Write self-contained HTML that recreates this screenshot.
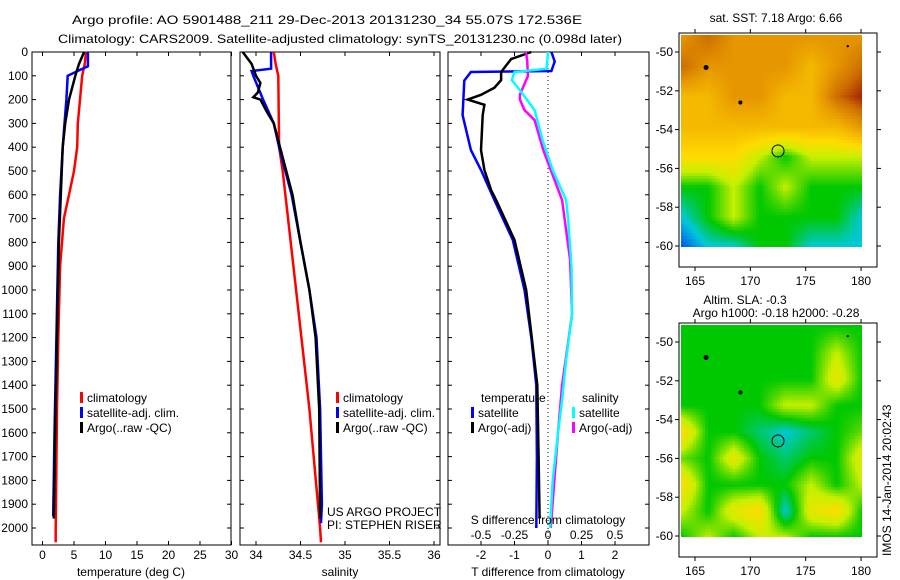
<!DOCTYPE html>
<html><head><meta charset="utf-8"><style>
html,body{margin:0;padding:0;background:#fff;width:900px;height:580px;overflow:hidden}
svg{position:absolute;left:0;top:0}
text{font-family:"Liberation Sans",sans-serif;font-size:12px;fill:#000}
canvas{position:absolute}
</style></head><body>
<canvas id="m1" width="181" height="212" style="left:681px;top:35px"></canvas>
<canvas id="m2" width="181" height="212" style="left:681px;top:325px"></canvas>
<svg id="s" width="900" height="580"></svg>
<script>
// ---- data ----
const tickDepths=[0,100,200,300,400,500,600,700,800,900,1000,1100,1200,1300,1400,1500,1600,1700,1800,1900,2000];
const tempTicks=[0,5,10,15,20,25,30];
const salTicks=[34,34.5,35,35.5,36];
const tdTicks=[-2,-1,0,1,2];
const sdTicks=[-0.5,-0.25,0,0.25,0.5];
const tempClimD=[0,50,100,300,400,500,600,700,900,1200,1500,2000,2060];
const tempClimV=[6.9,6.7,6.3,5.6,5.5,5.0,4.2,3.4,2.8,2.5,2.3,2.1,2.1];
const tempSatD=[0,60,75,100,200,300,400,600,800,1200,1600,1950];
const tempSatV=[7.2,7.2,6.0,4.0,3.8,3.5,3.2,2.8,2.5,2.2,1.9,1.7];
const tempArgoD=[0,50,100,200,300,400,600,800,1200,1600,1960];
const tempArgoV=[6.6,5.8,5.2,4.2,3.6,3.2,2.9,2.6,2.3,2.0,1.8];
const salClimD=[0,50,100,400,500,1000,1500,2000,2060];
const salClimV=[34.2,34.22,34.25,34.26,34.3,34.45,34.6,34.72,34.73];
const salSatD=[0,70,80,100,200,300,400,600,800,1000,1200,1500,1900,1980];
const salSatV=[34.17,34.17,33.95,33.97,34.08,34.2,34.26,34.4,34.5,34.6,34.68,34.72,34.74,34.73];
const salArgoD=[0,50,100,130,170,190,200,250,300,400,600,800,1000,1200,1500,1960];
const salArgoV=[33.85,33.95,34.0,34.05,34.02,33.97,34.05,34.12,34.2,34.27,34.41,34.5,34.6,34.67,34.71,34.72];
const tdSatD=[0,40,80,84,120,265,412,496,622,790,1000,1200,1400,1700,2000];
const tdSatV=[0.1,0.2,0.1,-2.3,-2.5,-2.55,-2.3,-2.0,-1.6,-1.05,-0.7,-0.5,-0.35,-0.33,-0.35];
const tdArgoD=[0,30,84,118,150,180,200,222,265,412,496,580,622,790,1000,1400,1700,1960];
const tdArgoV=[-0.5,-1.1,-1.4,-1.4,-1.6,-2.0,-2.4,-1.9,-1.95,-2.0,-1.9,-1.7,-1.55,-1.0,-0.65,-0.32,-0.28,-0.25];
const sdSatD=[0,70,84,118,160,244,370,496,622,700,900,1100,1294,1462,1600,1800,2000];
const sdSatV=[0,-0.01,-0.25,-0.27,-0.21,-0.1,-0.04,0.035,0.135,0.15,0.175,0.18,0.135,0.105,0.075,0.035,0.015];
const sdArgoD=[0,34,101,180,200,244,286,412,622,874,1100,1400,1600,2000];
const sdArgoV=[-0.165,-0.155,-0.15,-0.21,-0.21,-0.175,-0.1,-0.035,0.105,0.165,0.18,0.105,0.075,0.02];
const sstGrid=[[6,7,6,6,6,6,6,6],[7,6,6,6,6,5,6,7],[5,5,6,6,5,5,7,8],[5,5,5,5,5,5,5,6],[4,4,4,3,2,3,3,3],[2,2,3,2,3,2,2,2],[1,2,3,2,2,2,2,1],[0,1,1,2,2,1,1,1]];
const slaGrid=[[2,2,2,2,2,2,2,2],[2,2,2,2,2,2,3,2],[2,2,2,2,2,2,3.5,2],[2,2,2,2,3,3,2,2],[4,2,2,1.5,1,1.5,2,2.5],[2.5,2,3.5,2,1.5,2,2,3.5],[4,2,2,2,2,3,2,3],[3,2,3.5,4,1,3.5,4,2],[2,3,2,3,3,2,2,2]];
// ---- helpers ----
const S=document.getElementById('s');const NS='http://www.w3.org/2000/svg';
function el(t,a,p){const e=document.createElementNS(NS,t);for(const k in a)e.setAttribute(k,a[k]);(p||S).appendChild(e);return e;}
function txt(x,y,s,anchor,extra){const e=el('text',Object.assign({x:x,y:y,'text-anchor':anchor||'start'},extra||{}));e.textContent=s;return e;}
const Y0=52,YB=545,dy=d=>Y0+d*0.238;
function axes(x0,x1){el('rect',{x:x0,y:Y0,width:x1-x0,height:YB-Y0,fill:'none',stroke:'#000','stroke-width':1});
 tickDepths.forEach(d=>{el('line',{x1:x0,x2:x0+4,y1:dy(d),y2:dy(d),stroke:'#000'});el('line',{x1:x1,x2:x1-4,y1:dy(d),y2:dy(d),stroke:'#000'});});}
function line(D,V,fx,col,name){const pts=D.map((d,i)=>fx(V[i]).toFixed(1)+','+dy(d).toFixed(1)).join(' ');
 const p=el('polyline',{points:pts,fill:'none',stroke:col,'stroke-width':2.5});
 
 }
function xticks(ticks,fx,y){ticks.forEach(t=>{el('line',{x1:fx(t),x2:fx(t),y1:YB,y2:YB-4,stroke:'#000'});el('line',{x1:fx(t),x2:fx(t),y1:Y0,y2:Y0+4,stroke:'#000'});txt(fx(t),y,String(t),'middle');});}
function legend(x,y,items){items.forEach((it,i)=>{el('rect',{x:x,y:y+i*15-10,width:3,height:11,fill:it[1]});txt(x+7,y+i*15,it[0],'start',{'font-size':'12.5'});});}
// titles
txt(72,24,'Argo profile: AO 5901488_211 29-Dec-2013 20131230_34 55.07S 172.536E','start',{'font-size':'15',textLength:'510',lengthAdjust:'spacingAndGlyphs'});
txt(58,43,'Climatology: CARS2009. Satellite-adjusted climatology: synTS_20131230.nc (0.098d later)','start',{'font-size':'15',textLength:'564',lengthAdjust:'spacingAndGlyphs'});
// panel 1
const fT=v=>42.5+6.3*v;
axes(32,231);
tickDepths.forEach(d=>txt(28,dy(d)+4,String(d),'end'));
xticks(tempTicks,fT,559);
line(tempClimD,tempClimV,fT,'#f00','temp-climatology-line');
line(tempSatD,tempSatV,fT,'#00f','temp-satellite-line');
line(tempArgoD,tempArgoV,fT,'#000','temp-argo-line');
legend(80,402,[['climatology','#f00'],['satellite-adj. clim.','#00f'],['Argo(..raw -QC)','#000']]);
txt(131,576,'temperature (deg C)','middle');
// panel 2
const fS=v=>256+89*(v-34);
axes(240,440);
xticks(salTicks,fS,559);
line(salClimD,salClimV,fS,'#f00','sal-climatology-line');
line(salSatD,salSatV,fS,'#00f','sal-satellite-line');
line(salArgoD,salArgoV,fS,'#000','sal-argo-line');
legend(336,402,[['climatology','#f00'],['satellite-adj. clim.','#00f'],['Argo(..raw -QC)','#000']]);
txt(327,516,'US ARGO PROJECT');txt(327,529,'PI: STEPHEN RISER');
txt(340,576,'salinity','middle');
// panel 3
const fD=v=>548+33.5*v, fSD=v=>548+134*v;
axes(448,649);
el('line',{x1:548,x2:548,y1:Y0,y2:YB,stroke:'#000','stroke-dasharray':'1,3'});
tdTicks.forEach(t=>{el('line',{x1:fD(t),x2:fD(t),y1:YB,y2:YB-4,stroke:'#000'});txt(fD(t),559,String(t),'middle');});
sdTicks.forEach(t=>{el('line',{x1:fSD(t),x2:fSD(t),y1:Y0,y2:Y0+4,stroke:'#000'});txt(fSD(t),539,String(t),'middle');});
line(tdSatD,tdSatV,fD,'#00f','tdiff-satellite-line');
line(tdArgoD,tdArgoV,fD,'#000','tdiff-argo-line');
line(sdArgoD,sdArgoV,fSD,'#f0f','sdiff-argo-line');
line(sdSatD,sdSatV,fSD,'#0ff','sdiff-satellite-line');
txt(481,402,'temperature','start',{'font-size':'12.5'});txt(582,402,'salinity','start',{'font-size':'12.5'});
legend(471,417,[['satellite','#00f'],['Argo(-adj)','#000']]);
legend(572,417,[['satellite','#0ff'],['Argo(-adj)','#f0f']]);
txt(548,524,'S difference from climatology','middle',{'font-size':'12.5'});
txt(548,576,'T difference from climatology','middle');
// maps
const lonX=l=>695+11.07*(l-165);
function mapAxes(top,bot,lat50){
 el('rect',{x:679,y:top,width:198,height:bot-top,fill:'none',stroke:'#000'});
 const latY=l=>lat50+19.4*(-50-l);
 [-50,-52,-54,-56,-58,-60].forEach(l=>{el('line',{x1:679,x2:675,y1:latY(l),y2:latY(l),stroke:'#000'});el('line',{x1:877,x2:881,y1:latY(l),y2:latY(l),stroke:'#000'});txt(673,latY(l)+4,String(l),'end');});
 [165,170,175,180].forEach(l=>{el('line',{x1:lonX(l),x2:lonX(l),y1:bot,y2:bot+4,stroke:'#000'});el('line',{x1:lonX(l),x2:lonX(l),y1:top,y2:top-4,stroke:'#000'});txt(lonX(l),bot+18,String(l),'middle');});
 el('circle',{cx:lonX(172.5),cy:latY(-55.1),r:6,fill:'none',stroke:'#000'});
 [[166,-50.8,2.5],[169.1,-52.6,2],[178.8,-49.7,1.2]].forEach(p=>el('circle',{cx:lonX(p[0]),cy:latY(p[1]),r:p[2],fill:'#000'}));
}
mapAxes(33,267,52);
mapAxes(323,557,342);
txt(776,22,'sat. SST: 7.18 Argo: 6.66','middle');
txt(745,304,'Altim. SLA: -0.3','middle');
txt(776,317,'Argo h1000: -0.18 h2000: -0.28','middle');
txt(0,0,'IMOS 14-Jan-2014 20:02:43','start',{transform:'translate(891,556) rotate(-90)'});
// map rasters
const cmap=[[0,90,230],[0,200,220],[0,200,0],[200,240,0],[255,220,0],[245,185,0],[230,150,0],[205,110,0],[165,35,0]];
function col(v){v=Math.max(0,Math.min(8,v));const i=Math.min(7,Math.floor(v)),f=v-i;return cmap[i].map((c,k)=>Math.round(c+(cmap[i+1][k]-c)*f));}
function draw(id,g){const c=document.getElementById(id).getContext('2d');const R=g.length,C=g[0].length;
 for(let y=0;y<212;y+=3)for(let x=0;x<181;x+=3){const gy=y/211*(R-1),gx=x/180*(C-1);const i=Math.min(R-2,Math.floor(gy)),j=Math.min(C-2,Math.floor(gx));const fy=gy-i,fx=gx-j;
  const v=g[i][j]*(1-fx)*(1-fy)+g[i][j+1]*fx*(1-fy)+g[i+1][j]*(1-fx)*fy+g[i+1][j+1]*fx*fy;const k=col(v);c.fillStyle='rgb('+k+')';c.fillRect(x,y,3,3);}}
draw('m1',sstGrid);draw('m2',slaGrid);
</script>
</body></html>
